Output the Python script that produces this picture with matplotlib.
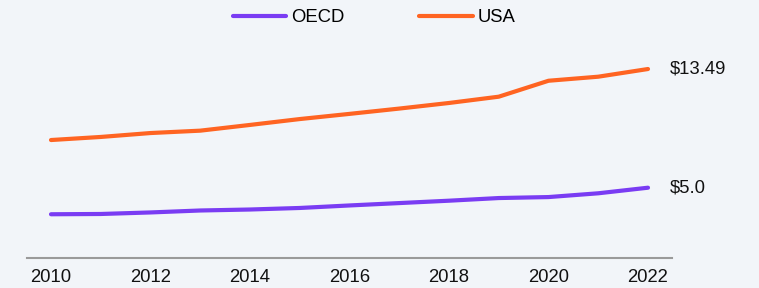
import matplotlib
matplotlib.use("Agg")
import matplotlib.pyplot as plt

years = [2010, 2011, 2012, 2013, 2014, 2015, 2016, 2017, 2018, 2019, 2020, 2021, 2022]
oecd = [3.10, 3.12, 3.23, 3.37, 3.44, 3.55, 3.73, 3.90, 4.07, 4.26, 4.33, 4.60, 5.0]
usa = [8.41, 8.63, 8.91, 9.08, 9.49, 9.91, 10.28, 10.66, 11.06, 11.51, 12.65, 12.94, 13.49]
end_labels = ["$5.0", "$13.49"]
xticks = [2010, 2012, 2014, 2016, 2018, 2020, 2022]

bg = "#f2f5f9"
c_oecd = "#7a3cf3"
c_usa = "#ff6422"
fs = 13.3

plt.rcParams['font.family'] = ['Liberation Sans', 'DejaVu Sans']

fig = plt.figure(figsize=(7.59, 2.88), dpi=100, facecolor=bg)
ax = fig.add_axes([27/759, (288-257.6)/288, 645/759, 257.6/288])
ax.set_facecolor(bg)

ax.plot(years, oecd, color=c_oecd, lw=3, solid_capstyle='round', label="OECD")
ax.plot(years, usa, color=c_usa, lw=3, solid_capstyle='round', label="USA")

ax.set_xlim(2010 - 24/49.75, 2022 + 24/49.75)
ax.set_ylim(0, 257.6/13.98)

ax.annotate(end_labels[0], (years[-1], oecd[-1]), xytext=(22, 0), textcoords='offset pixels',
            ha='left', va='center', fontsize=fs, color='#111111')
ax.annotate(end_labels[1], (years[-1], usa[-1]), xytext=(22, 0), textcoords='offset pixels',
            ha='left', va='center', fontsize=fs, color='#111111')

for s in ['top', 'right', 'left']:
    ax.spines[s].set_visible(False)
ax.spines['bottom'].set_color('#9a9a9a')
ax.spines['bottom'].set_linewidth(1.5)
ax.set_yticks([])
ax.set_xticks(xticks)
ax.set_xticklabels([str(x) for x in xticks])
ax.tick_params(axis='x', length=0, pad=8, labelsize=fs, labelcolor='#111111')

fig.legend(loc='center', bbox_to_anchor=(374/759, 1 - 18/288), ncol=2, frameon=False,
           fontsize=fs, handlelength=2.92, handletextpad=0.27, columnspacing=4.0)

fig.savefig("out.png", dpi=100, facecolor=bg)
